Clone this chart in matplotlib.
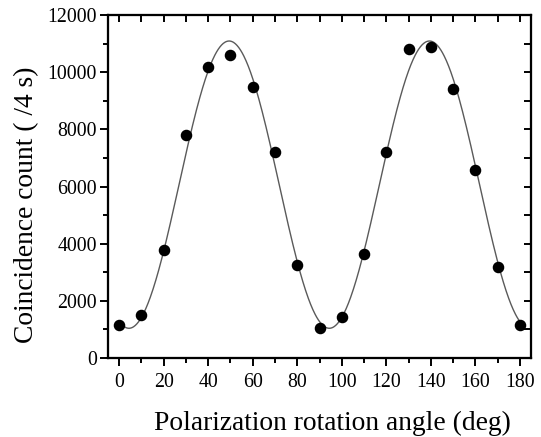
import numpy as np
import matplotlib
matplotlib.use("Agg")
import matplotlib.pyplot as plt

# Data
angles = [0, 10, 20, 30, 40, 50, 60, 70, 80, 90, 100, 110, 120, 130, 140, 150, 160, 170, 180]
counts = [1170, 1520, 3770, 7800, 10190, 10600, 9480, 7210, 3260, 1050, 1440, 3640, 7200, 10800, 10890, 9410, 6560, 3200, 1140]

# Fitted curve parameters: offset, amplitude, phase of maximum (deg)
fit_offset = 1040
fit_amplitude = 10050
fit_phase = 49.4

xticks = [0, 20, 40, 60, 80, 100, 120, 140, 160, 180]
yticks = [0, 2000, 4000, 6000, 8000, 10000, 12000]

plt.rcParams['font.family'] = ['Liberation Serif', 'DejaVu Serif']

fig = plt.figure(figsize=(5.41, 4.37), dpi=100)
ax = fig.add_axes([108/541, 1 - 358/437, (531-108)/541, (358-15)/437])

xfit = np.linspace(0, 180, 721)
yfit = fit_offset + fit_amplitude * np.cos(np.radians(2 * (xfit - fit_phase)))**2
ax.plot(xfit, yfit, color='#5a5a5a', lw=1.0, zorder=2)
ax.plot(angles, counts, 'o', color='black', ms=7.3, zorder=3)

ax.set_xlim(-5, 185)
ax.set_ylim(0, 12000)
ax.set_xticks(xticks)
ax.set_yticks(yticks)
ax.set_xticks(range(10, 180, 20), minor=True)
ax.set_yticks(range(1000, 12000, 2000), minor=True)

for s in ax.spines.values():
    s.set_linewidth(1.5)

ax.tick_params(axis='both', which='major', direction='out', length=6, width=1.4,
               labelsize=14.3, pad=2)
ax.tick_params(axis='both', which='minor', direction='out', length=3.5, width=1.4)
ax.tick_params(axis='x', which='major', pad=5)

ax.set_xlabel('Polarization rotation angle (deg)', fontsize=19.8)
ax.xaxis.set_label_coords(0.53, -0.155)
ax.set_ylabel('Coincidence count ( /4 s)', fontsize=19.8)
ax.yaxis.set_label_coords(-0.163, 0.446)

# top and right inward ticks
axt = ax.twiny()
axt.set_xlim(ax.get_xlim())
axt.set_xticks(range(0, 181, 10))
axt.tick_params(axis='x', direction='in', length=5, width=1.4, labeltop=False)
axr = ax.twinx()
axr.set_ylim(ax.get_ylim())
axr.set_yticks(range(1000, 12000, 1000))
axr.tick_params(axis='y', direction='in', length=5, width=1.4, labelright=False)
for a in (axt, axr):
    for s in a.spines.values():
        s.set_linewidth(1.5)

fig.savefig('out.png', dpi=100)
